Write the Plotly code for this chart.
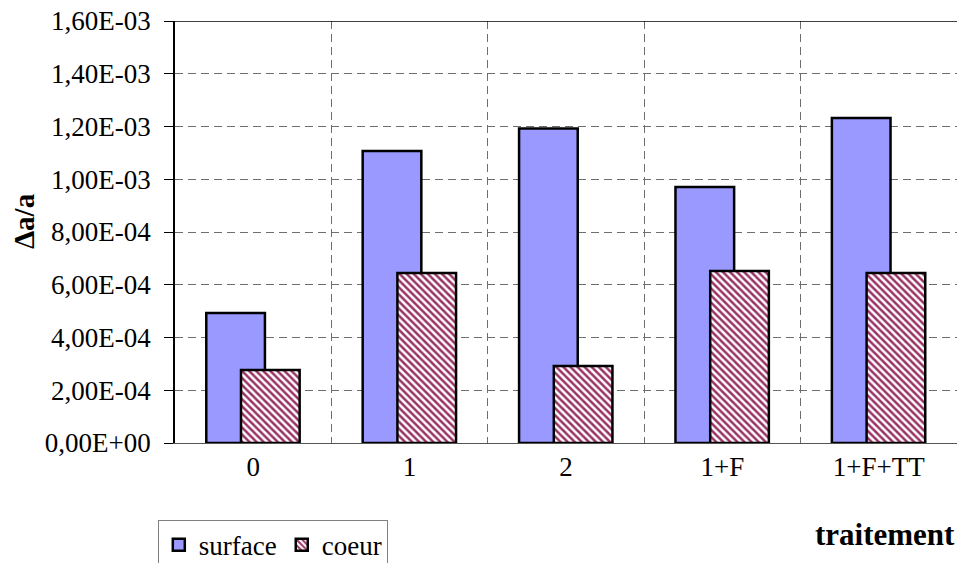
import plotly.graph_objects as go

categories = ["0", "1", "2", "1+F", "1+F+TT"]
surface = [4.93e-4, 1.107e-3, 1.192e-3, 9.71e-4, 1.232e-3]
coeur = [2.77e-4, 6.45e-4, 2.92e-4, 6.52e-4, 6.45e-4]
y_tickvals = [0, 2e-4, 4e-4, 6e-4, 8e-4, 1.0e-3, 1.2e-3, 1.4e-3, 1.6e-3]
y_ticktext = ["0,00E+00", "2,00E-04", "4,00E-04", "6,00E-04", "8,00E-04",
              "1,00E-03", "1,20E-03", "1,40E-03", "1,60E-03"]

FONT = "Liberation Serif, Times New Roman, serif"
GRID = "#6e6e6e"

fig = go.Figure()
fig.add_trace(go.Bar(
    x=categories, y=surface, name="surface",
    width=0.375, offset=-0.30,
    marker=dict(color="#9999FF", line=dict(color="black", width=2.5)),
))
fig.add_trace(go.Bar(
    x=categories, y=coeur, name="coeur",
    width=0.375, offset=-0.078,
    marker=dict(color="white", line=dict(color="black", width=2.5),
                pattern=dict(shape="\\", fgcolor="#993366", bgcolor="white",
                             size=5, solidity=0.5, fillmode="replace")),
))

fig.update_layout(
    width=960, height=563,
    margin=dict(l=175, r=3, t=21, b=120, autoexpand=False),
    paper_bgcolor="white", plot_bgcolor="white",
    barmode="overlay",
    font=dict(family=FONT, size=27, color="black"),
    showlegend=True,
    legend=dict(orientation="h", x=-0.022, y=-0.182, xanchor="left", yanchor="top",
                bordercolor="#808080", borderwidth=1, bgcolor="white",
                font=dict(family=FONT, size=27), itemwidth=30,
                tracegroupgap=0),
    xaxis=dict(
        type="category", range=[-0.5, 4.5], tickson="boundaries",
        showgrid=True, gridcolor=GRID, griddash="8px,5px", gridwidth=1,
        ticks="", showline=True, linecolor="#555555", linewidth=1,
        tickfont=dict(family=FONT, size=27), zeroline=False,
    ),
    yaxis=dict(
        range=[0, 1.6e-3], tickvals=y_tickvals, ticktext=y_ticktext,
        showgrid=True, gridcolor=GRID, griddash="8px,5px", gridwidth=1,
        ticks="outside", ticklen=9, tickcolor="black", tickwidth=1,
        showline=True, linecolor="black", linewidth=1.5, zeroline=False,
        tickfont=dict(family=FONT, size=27), ticklabelstandoff=8,
    ),
)

# solid border along the top of the plot area
fig.add_shape(type="line", xref="paper", yref="y", x0=-0.012, x1=1, y0=1.6e-3, y1=1.6e-3,
              line=dict(color="black", width=1.5))

fig.add_annotation(text="<b>Δa/a</b>", xref="paper", yref="paper",
                   x=-0.193, y=0.526, xanchor="center", yanchor="middle",
                   textangle=-90, showarrow=False,
                   font=dict(family=FONT, size=29))
fig.add_annotation(text="<b>traitement</b>", xref="paper", yref="paper",
                   x=1.0, y=-0.218, xanchor="right", yanchor="middle", showarrow=False,
                   font=dict(family=FONT, size=31))

fig.write_html("out.html")
